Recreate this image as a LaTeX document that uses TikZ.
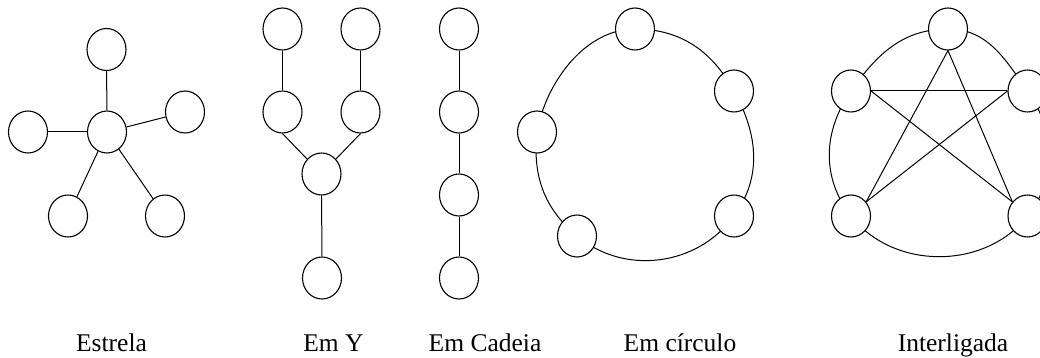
\documentclass[tikz,border=0pt]{standalone}
\usepackage{fontspec}
\setmainfont{Liberation Serif}
\usetikzlibrary{shapes.geometric,backgrounds}
\begin{document}
\begin{tikzpicture}[x=1pt,y=1pt,
  nd/.style={ellipse,draw,fill=white,minimum width=39pt,minimum height=42pt,inner sep=0pt,line width=1.1pt},
  ln/.style={line width=1pt},
  lbl/.style={anchor=base,font=\fontsize{25.5}{30}\selectfont,inner sep=0pt}]
\useasboundingbox (0,0) rectangle (1040,-358);
% Estrela
\node[nd] (s0) at (107,-132) {};
\node[nd] (s1) at (106.5,-49.5) {};
\node[nd] (s2) at (28,-132) {};
\node[nd] (s3) at (185,-112) {};
\node[nd] (s4) at (68,-216) {};
\node[nd] (s5) at (165,-216) {};
\draw[ln] (s0) -- (s1);
\draw[ln] (s0) -- (s2);
\draw[ln] (s0) -- (s3);
\draw[ln] (s0) -- (s4);
\draw[ln] (s0) -- (s5);
% Em Y
\node[nd] (y1) at (282.5,-29) {};
\node[nd] (y2) at (360.5,-29) {};
\node[nd] (y3) at (282.5,-112) {};
\node[nd] (y4) at (360.5,-112) {};
\node[nd] (y5) at (321.5,-174) {};
\node[nd] (y6) at (322,-278) {};
\draw[ln] (y1) -- (y3);
\draw[ln] (y2) -- (y4);
\draw[ln] (y3.south) -- (y5.134);
\draw[ln] (y4.south) -- (y5.46);
\draw[ln] (y5) -- (y6);
% Em Cadeia
\node[nd] (c1) at (459,-29) {};
\node[nd] (c2) at (459,-112) {};
\node[nd] (c3) at (459,-195) {};
\node[nd] (c4) at (459,-278) {};
\draw[ln] (c1) -- (c2);
\draw[ln] (c2) -- (c3);
\draw[ln] (c3) -- (c4);
% Em circulo
\node[nd] (k1) at (635,-29) {};
\node[nd] (k2) at (734,-91) {};
\node[nd] (k3) at (734,-216) {};
\node[nd] (k4) at (577,-236) {};
\node[nd] (k5) at (537,-132) {};
\begin{scope}[on background layer]
\draw[ln] (k1.center) to[out=0,in=119] (k2.center);
\draw[ln] (k2.center) to[out=-61,in=54] (k3.center);
\draw[ln] (k3.center) to[out=-126,in=-40] (k4.center);
\draw[ln] (k4.center) to[out=140,in=-96] (k5.center);
\draw[ln] (k5.center) to[out=80,in=180,looseness=0.9] (k1.center);
\end{scope}
% Interligada
\node[nd] (i1) at (948,-29) {};
\node[nd] (i2) at (851,-91) {};
\node[nd] (i3) at (1027.5,-91) {};
\node[nd] (i4) at (851,-216) {};
\node[nd] (i5) at (1027.5,-216) {};
\begin{scope}[on background layer]
\draw[ln] (i1.center) to[out=0,in=125] (i3.center);
\draw[ln] (i3.center) to[out=-55,in=52] (i5.center);
\draw[ln] (i5.center) to[out=-128,in=-52] (i4.center);
\draw[ln] (i4.center) to[out=128,in=-125] (i2.center);
\draw[ln] (i2.center) to[out=55,in=180] (i1.center);
\end{scope}
\draw[ln] (i1.south) -- (i4.43);
\draw[ln] (i1.south) -- (i5.137);
\draw[ln] (i2.east) -- (i3.west);
\draw[ln] (i2.east) -- (i5.137);
\draw[ln] (i3.west) -- (i4.43);
% Labels
\node[lbl] (l1) at (111.5,-351) {Estrela};
\node[lbl] (l2) at (333.5,-351) {Em Y};
\node[lbl] (l3) at (485,-351) {Em Cadeia};
\node[lbl] (l4) at (680,-351) {Em círculo};
\node[lbl] (l5) at (953,-351) {Interligada};
\end{tikzpicture}
\end{document}
